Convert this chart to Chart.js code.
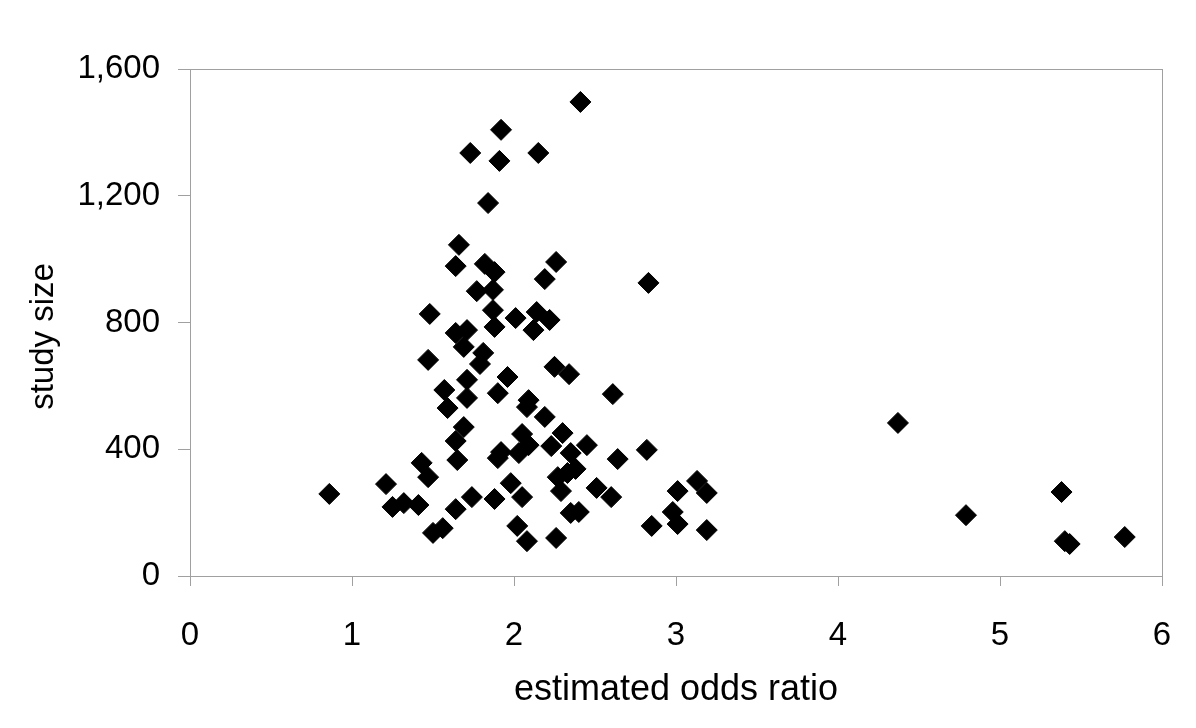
<!DOCTYPE html>
<html>
<head>
<meta charset="utf-8">
<title>study size vs estimated odds ratio</title>
<script src="https://cdn.jsdelivr.net/npm/chart.js@4.4.0/dist/chart.umd.min.js"></script>
<style>
  html, body { margin: 0; padding: 0; background: #fff; }
  #wrap { width: 1196px; height: 728px; }
</style>
</head>
<body>
<div id="wrap"><canvas id="grafico" width="1196" height="728"></canvas></div>
<script>
// valores
var oddsRatio = [
  0.86, 2.41, 1.92, 1.73, 1.91, 2.15, 1.84, 1.66, 1.64, 1.82,
  1.88, 2.26, 2.19, 1.77, 1.87, 1.48, 1.87, 1.88, 1.64, 1.71,
  1.69, 1.81, 1.79, 1.47, 1.71, 1.57, 1.71, 1.59, 1.69, 1.90,
  2.01, 2.14, 2.22, 2.12, 2.25, 2.34, 2.61, 2.83, 1.96, 2.09,
  2.08, 2.19, 1.21, 1.25, 1.32, 1.41, 1.43, 1.47, 1.64, 1.65,
  1.50, 1.56, 1.64, 1.74, 1.88, 1.90, 2.05, 1.92, 2.03, 2.09,
  2.30, 2.23, 2.35, 2.45, 2.64, 2.82, 2.27, 2.33, 2.38, 2.29,
  1.98, 2.05, 2.51, 2.60, 2.35, 2.40, 2.02, 2.08, 2.26, 3.01,
  3.13, 3.19, 2.98, 3.01, 2.85, 3.19, 4.37, 4.79, 5.38, 5.40,
  5.43, 5.77
];
var studySize = [
  259, 1496, 1408, 1335, 1310, 1335, 1177, 1045, 978, 985,
  959, 991, 937, 899, 903, 827, 839, 786, 767, 776,
  723, 704, 669, 682, 619, 587, 562, 530, 470, 577,
  814, 833, 808, 776, 660, 637, 574, 925, 628, 555,
  533, 502, 290, 218, 230, 224, 357, 312, 426, 366,
  136, 151, 211, 249, 243, 372, 448, 391, 388, 413,
  451, 410, 388, 413, 369, 398, 312, 325, 338, 268,
  293, 249, 278, 249, 199, 202, 158, 110, 120, 268,
  300, 262, 202, 164, 158, 145, 483, 192, 265, 110,
  101, 123
];
var xTicks = [0, 1, 2, 3, 4, 5, 6];
var yTicks = [0, 400, 800, 1200, 1600];
var xTitulo = 'estimated odds ratio';
var yTitulo = 'study size';

var corEixo = '#a0a0a0';
var fonte = 'Liberation Sans, Arial, sans-serif';

// moldura cinza em volta da area do grafico + titulo do eixo y
// (o titulo do Excel fica um pouco abaixo do centro, por isso desenho na mao)
var moldura = {
  id: 'moldura',
  afterDraw: function (chart) {
    var a = chart.chartArea;
    var ctx = chart.ctx;
    ctx.save();
    ctx.strokeStyle = corEixo;
    ctx.lineWidth = 1;
    ctx.strokeRect(Math.round(a.left) + 0.5, Math.round(a.top) + 0.5,
      Math.round(a.right - a.left), Math.round(a.bottom - a.top));

    ctx.translate(44, (a.top + a.bottom) / 2 + 14);
    ctx.rotate(-Math.PI / 2);
    ctx.fillStyle = '#000';
    ctx.font = '33px ' + fonte;
    ctx.textAlign = 'center';
    ctx.textBaseline = 'middle';
    ctx.fillText(yTitulo, 0, 0);
    ctx.restore();
  }
};

var pontos = [];
for (var i = 0; i < oddsRatio.length; i++) {
  pontos.push({ x: oddsRatio[i], y: studySize[i] });
}

var ctx = document.getElementById('grafico').getContext('2d');
var myChart = new Chart(ctx, {
  type: 'scatter',
  data: {
    datasets: [{
      data: pontos,
      pointStyle: 'rectRot',
      pointRadius: 10.5,
      pointHoverRadius: 10.5,
      backgroundColor: '#000',
      borderColor: '#000',
      borderWidth: 1
    }]
  },
  options: {
    responsive: false,
    animation: false,
    devicePixelRatio: 1,
    events: [],
    layout: {
      padding: { left: 0, right: 34, top: 69, bottom: 0 }
    },
    plugins: {
      legend: { display: false },
      tooltip: { enabled: false }
    },
    scales: {
      x: {
        type: 'linear',
        min: xTicks[0],
        max: xTicks[xTicks.length - 1],
        afterFit: function (scale) {
          scale.height = 152;
          scale.paddingLeft = 0;
          scale.paddingRight = 0;
        },
        afterBuildTicks: function (scale) {
          scale.ticks = xTicks.map(function (v) { return { value: v }; });
        },
        grid: {
          drawOnChartArea: false,
          drawTicks: true,
          tickLength: 10,
          color: corEixo
        },
        border: { color: corEixo },
        ticks: {
          color: '#000',
          padding: 30,
          font: { family: fonte, size: 33 }
        },
        title: {
          display: true,
          text: xTitulo,
          color: '#000',
          font: { family: fonte, size: 36 },
          padding: { top: 0, bottom: 16 }
        }
      },
      y: {
        type: 'linear',
        min: yTicks[0],
        max: yTicks[yTicks.length - 1],
        afterFit: function (scale) {
          scale.width = 190;
          scale.paddingTop = 0;
          scale.paddingBottom = 0;
        },
        afterBuildTicks: function (scale) {
          scale.ticks = yTicks.map(function (v) { return { value: v }; });
        },
        grid: {
          drawOnChartArea: false,
          drawTicks: true,
          tickLength: 12,
          color: corEixo
        },
        border: { color: corEixo },
        ticks: {
          color: '#000',
          padding: 18,
          font: { family: fonte, size: 33 },
          callback: function (v) { return v.toLocaleString('en-US'); }
        },
        title: { display: false }
      }
    }
  },
  plugins: [moldura]
});
</script>
</body>
</html>
